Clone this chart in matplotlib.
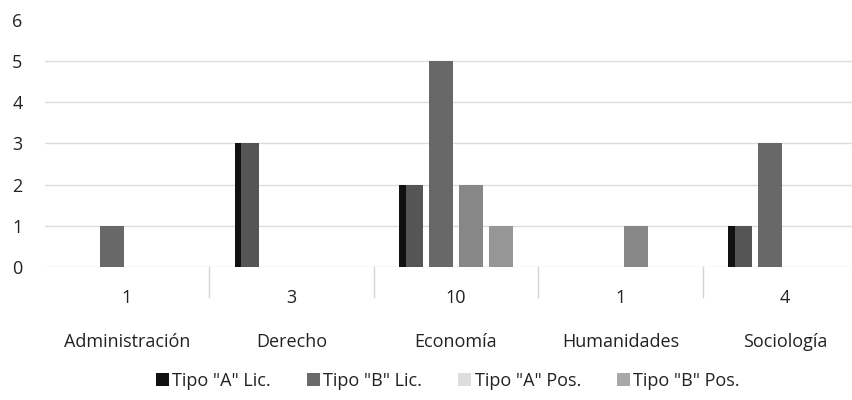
import numpy as np
import matplotlib.pyplot as plt
from matplotlib.patches import Patch
import matplotlib.transforms as mtransforms

plt.rcParams['font.family'] = ['Open Sans', 'DejaVu Sans']

categorias = ['Administración', 'Derecho', 'Economía', 'Humanidades', 'Sociología']
series = ['Tipo "A" Lic.', 'Tipo "B" Lic.', 'Tipo "A" Pos.', 'Tipo "B" Pos.']
tipo_a_lic = [0, 3, 2, 0, 1]
tipo_b_lic = [1, 0, 5, 0, 3]
tipo_a_pos = [0, 0, 2, 1, 0]
tipo_b_pos = [0, 0, 1, 0, 0]

valores = [tipo_a_lic, tipo_b_lic, tipo_a_pos, tipo_b_pos]
totales = np.sum(valores, axis=0)

colores = ['#555555', '#686868', '#878787', '#969696']
colores_leyenda = ['#111111', '#6a6a6a', '#dedede', '#a8a8a8']

fig = plt.figure(figsize=(8.53, 4.0), dpi=100)
# axes extend a bit past the right edge, like the scanned original
ax = fig.add_axes([44.75 / 853, (400 - 267) / 400, (853 - 44.75) / 853, 247.2 / 400])

x = np.arange(len(categorias))
paso = 0.182
ancho = 0.146
for i, vals in enumerate(valores):
    pos = x + (i - 1.5) * paso
    if i == 0:
        # black shadow on the left side of the first series
        ax.bar(pos - 0.02, vals, width=ancho - 0.04, color='#111111', zorder=2)
        ax.bar(pos + 0.02, vals, width=ancho - 0.04, color=colores[i], zorder=3)
    else:
        ax.bar(pos, vals, width=ancho, color=colores[i], zorder=3)

ax.set_xlim(-0.5, 4.413)
ax.set_ylim(0, 6)
ax.set_yticks(range(0, 7))
ax.tick_params(axis='y', length=0, pad=16, labelsize=13, labelcolor='#222222')
ax.set_xticks([])
for s in ax.spines.values():
    s.set_visible(False)
# no gridline at the top (6) in the original
for yv in range(0, 6):
    ax.axhline(yv, color='#dcdcdc', linewidth=1.0, zorder=0)

trans = mtransforms.blended_transform_factory(ax.transData, ax.transAxes)
for b in [0.5, 1.5, 2.5, 3.5]:
    ax.plot([b, b], [0, -0.12], transform=trans, color='#d4d4d4', linewidth=1.0, clip_on=False)

for i in range(len(categorias)):
    ax.text(x[i], -0.125, str(totales[i]), transform=trans, ha='center', va='center',
            fontsize=13, color='#222222')
    ax.text(x[i], -0.305, categorias[i], transform=trans, ha='center', va='center',
            fontsize=13, color='#222222')

handles = [Patch(facecolor=c, edgecolor='none') for c in colores_leyenda]
fig.legend(handles, series, loc='center', bbox_to_anchor=(448 / 853, 1 - 381 / 400), ncol=4,
           frameon=False, fontsize=13, handlelength=0.7, handleheight=0.7,
           handletextpad=0.2, columnspacing=2.0, labelcolor='#222222')

fig.savefig('out.png', dpi=100, facecolor='white')
